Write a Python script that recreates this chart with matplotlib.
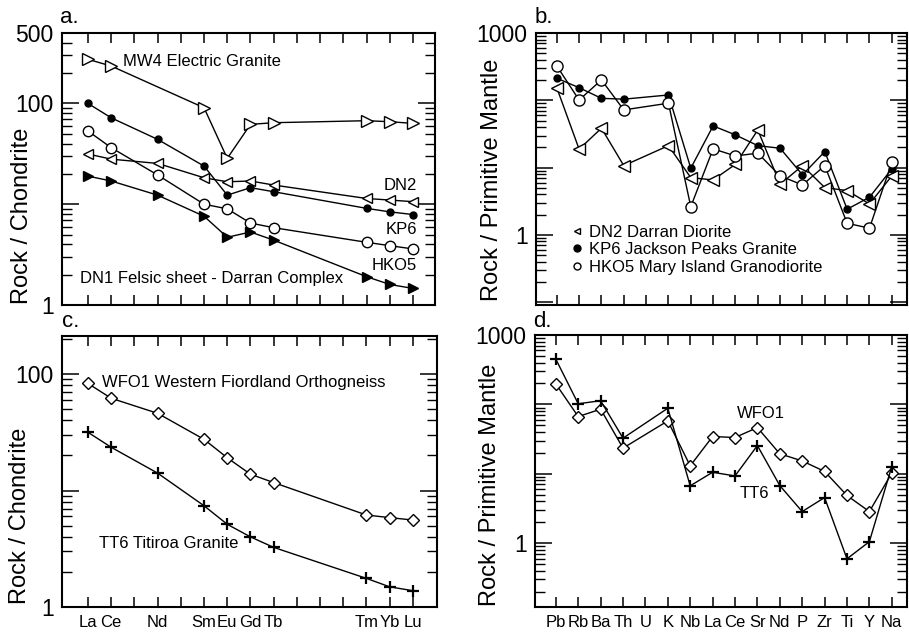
import numpy as np
import matplotlib
matplotlib.use("Agg")
import matplotlib.pyplot as plt
from matplotlib.ticker import LogLocator, NullFormatter
from matplotlib.lines import Line2D

plt.rcParams['font.family'] = ['Liberation Sans', 'DejaVu Sans']

# ---------------- data ----------------
ree_all = ['La', 'Ce', 'Pr', 'Nd', 'Pm', 'Sm', 'Eu', 'Gd', 'Tb', 'Dy', 'Ho', 'Er', 'Tm', 'Yb', 'Lu']
ree_used = ['La', 'Ce', 'Nd', 'Sm', 'Eu', 'Gd', 'Tb', 'Tm', 'Yb', 'Lu']

mw4_ree = [274, 235, np.nan, 90.6, 28.5, 62, 64.4, 67.4, 65.9, 63.4]
kp6_ree = [100, 72, 44, 23.9, 12.3, 14.6, 13.3, 9.1, 8.4, 7.9]
hko5_ree = [53.2, 36.4, 19.5, 10.0, 9.0, 6.5, 5.85, 4.19, 3.88, 3.6]
dn2_ree = [31.5, 28, 25.4, 18.3, 16.7, 17, 15.5, 11.4, 11, 10.6]
dn1_ree = [19, 17, 12.3, 7.6, 4.7, 5.3, 4.4, 1.91, 1.6, 1.46]

wfo1_ree = [83, 61.9, 46, 27.5, 19.1, 13.8, 11.7, 6.16, 5.85, 5.58]
tt6_ree = [31.6, 23.5, 14.1, 7.4, 5.13, 4.0, 3.25, 1.76, 1.49, 1.38]

spider = ['Pb', 'Rb', 'Ba', 'Th', 'U', 'K', 'Nb', 'La', 'Ce', 'Sr', 'Nd', 'P', 'Zr', 'Ti', 'Y', 'Na']
dn2_pm = [154, 18.8, 38.5, 10.7, np.nan, 21.2, 7.1, 6.56, 11.2, 36.3, 5.66, 10.7, 5.05, 4.55, 2.89, 7.53]
kp6_pm = [213, 154, 107, 104, np.nan, 120, 9.8, 41.7, 30.6, 21.2, 19.4, 7.8, 17.3, 2.41, 3.63, 9.57]
hko5_pm = [324, 101, 201, 72, np.nan, 90.6, 2.63, 19, 14.9, 16.4, 7.53, 5.53, 10.7, 1.49, 1.26, 12]
wfo1_pm = [197, 66.7, 85.3, 23.4, np.nan, 57.8, 13, 34.4, 33.3, 46.3, 19.4, 15.3, 10.8, 4.86, 2.85, 10.2]
tt6_pm = [448, 102, 113, 32.6, np.nan, 88, 6.7, 10.5, 9.3, 25.5, 6.76, 2.85, 4.54, 0.594, 1.05, 12.7]

# ---------------- layout ----------------
W, H = 909, 632
fig = plt.figure(figsize=(W / 100, H / 100), dpi=100)


def rect(l, t, r, b):
    return [l / W, 1 - b / H, (r - l) / W, (b - t) / H]


ax_a = fig.add_axes(rect(62, 33, 435, 305))
ax_b = fig.add_axes(rect(536, 33, 907, 305))
ax_c = fig.add_axes(rect(62, 336, 437, 607))
ax_d = fig.add_axes(rect(535, 335, 907, 607))

ree_x = np.array([ree_all.index(e) for e in ree_used])
sp_x = np.arange(len(spider))


def plot_series(ax, x, y, **kw):
    y = np.asarray(y, dtype=float)
    m = np.isfinite(y)
    ax.plot(x[m], y[m], color='black', lw=1.0, **kw)


open_kw = dict(mfc='white', mec='black', mew=1.0)
fill_kw = dict(mfc='black', mec='black', mew=1.0)

# panel a
plot_series(ax_a, ree_x, mw4_ree, marker='>', ms=8, **open_kw)
plot_series(ax_a, ree_x, kp6_ree, marker='o', ms=5, **fill_kw)
plot_series(ax_a, ree_x, hko5_ree, marker='o', ms=7.5, **open_kw)
plot_series(ax_a, ree_x, dn2_ree, marker='<', ms=7, **open_kw)
plot_series(ax_a, ree_x, dn1_ree, marker='>', ms=7, **fill_kw)

# panel b
plot_series(ax_b, sp_x, dn2_pm, marker='<', ms=8, **open_kw)
plot_series(ax_b, sp_x, kp6_pm, marker='o', ms=5, **fill_kw)
plot_series(ax_b, sp_x, hko5_pm, marker='o', ms=8, **open_kw)

# panel c
plot_series(ax_c, ree_x, wfo1_ree, marker='D', ms=6.5, **open_kw)
plot_series(ax_c, ree_x, tt6_ree, marker='+', ms=8, mec='black', mew=1.6)

# panel d
plot_series(ax_d, sp_x, wfo1_pm, marker='D', ms=6.5, **open_kw)
plot_series(ax_d, sp_x, tt6_pm, marker='+', ms=8, mec='black', mew=1.6)

# ---------------- axes styling ----------------
for ax in (ax_a, ax_b, ax_c, ax_d):
    ax.set_yscale('log')
    for s in ax.spines.values():
        s.set_linewidth(1.5)
    ax.tick_params(which='both', direction='in', top=True, right=True, width=1.1)
    ax.tick_params(axis='x', which='major', length=7, labelsize=12, pad=6)
    ax.tick_params(axis='y', which='major', length=12, labelsize=16.5, pad=6)
    ax.tick_params(axis='y', which='minor', length=7, width=1.0)
    ax.tick_params(axis='x', which='minor', bottom=False, top=False)

# REE axes
for ax in (ax_a, ax_c):
    ax.set_xticks(np.arange(len(ree_all)))
ax_a.set_xlim(-1.12, 14.95)
ax_c.set_xlim(-1.12, 15.04)
ax_a.set_xticklabels([])
ax_c.set_xticklabels([e if e in ree_used else '' for e in ree_all])

ax_a.set_ylim(1, 500)
ax_a.set_yticks([1, 10, 100, 500], labels=['1', '', '100', '500'])
ax_c.set_ylim(1, 212)
ax_c.set_yticks([1, 10, 100], labels=['1', '', '100'])

# spider axes
for ax in (ax_b, ax_d):
    ax.set_xticks(sp_x)
    ax.set_xlim(-0.93, 15.68)
ax_b.set_xticklabels([])
ax_d.set_xticklabels(spider)
ax_b.set_ylim(0.091, 1000)
ax_b.set_yticks([0.1, 1, 10, 100, 1000], labels=['', '1', '', '', '1000'])
ax_d.set_ylim(0.12, 1000)
ax_d.set_yticks([1, 10, 100, 1000], labels=['1', '', '', '1000'])

for ax in (ax_a, ax_b, ax_c, ax_d):
    ax.yaxis.set_minor_locator(LogLocator(base=10, subs=np.arange(2, 10), numticks=30))
    ax.yaxis.set_minor_formatter(NullFormatter())

# ---------------- text ----------------
ax_a.text(0.164, 0.897, 'MW4 Electric Granite', transform=ax_a.transAxes, fontsize=12, va='center', ha='left')
ax_a.text(0.952, 0.4375, 'DN2', transform=ax_a.transAxes, fontsize=12, va='center', ha='right')
ax_a.text(0.952, 0.276, 'KP6', transform=ax_a.transAxes, fontsize=12, va='center', ha='right')
ax_a.text(0.952, 0.147, 'HKO5', transform=ax_a.transAxes, fontsize=12, va='center', ha='right')
ax_a.text(0.048, 0.099, 'DN1 Felsic sheet - Darran Complex', transform=ax_a.transAxes, fontsize=12, va='center', ha='left')

ax_c.text(0.107, 0.830, 'WFO1 Western Fiordland Orthogneiss', transform=ax_c.transAxes, fontsize=12, va='center', ha='left')
ax_c.text(0.099, 0.236, 'TT6 Titiroa Granite', transform=ax_c.transAxes, fontsize=12, va='center', ha='left')

ax_d.text(0.543, 0.71, 'WFO1', transform=ax_d.transAxes, fontsize=12, va='center', ha='left')
ax_d.text(0.551, 0.419, 'TT6', transform=ax_d.transAxes, fontsize=12, va='center', ha='left')

handles = [
    Line2D([], [], ls='none', marker='<', ms=5, mfc='white', mec='black', mew=1.0),
    Line2D([], [], ls='none', marker='o', ms=5, mfc='black', mec='black'),
    Line2D([], [], ls='none', marker='o', ms=5, mfc='white', mec='black', mew=1.0),
]
labels = ['DN2 Darran Diorite', 'KP6 Jackson Peaks Granite', 'HKO5 Mary Island Granodiorite']
ax_b.legend(handles, labels, loc='upper left', bbox_to_anchor=(0.097, 0.295), frameon=False,
            fontsize=12, handlelength=0.6, handletextpad=0.4, labelspacing=0.15,
            borderpad=0, borderaxespad=0)

# panel letters
for lab, x, yb in (('a.', 60, 28), ('b.', 535, 28), ('c.', 62, 332), ('d.', 533, 332)):
    fig.text(x / W, 1 - yb / H, lab, fontsize=16, ha='left', va='bottom')

# y axis labels
fig.text(22 / W, 1 - 216 / H, 'Rock / Chondrite', rotation=90, fontsize=17, ha='center', va='center')
fig.text(20 / W, 1 - 516 / H, 'Rock / Chondrite', rotation=90, fontsize=17, ha='center', va='center')
fig.text(492 / W, 1 - 180 / H, 'Rock / Primitive Mantle', rotation=90, fontsize=17, ha='center', va='center')
fig.text(490 / W, 1 - 485 / H, 'Rock / Primitive Mantle', rotation=90, fontsize=17, ha='center', va='center')

fig.savefig('out.png', dpi=100)
